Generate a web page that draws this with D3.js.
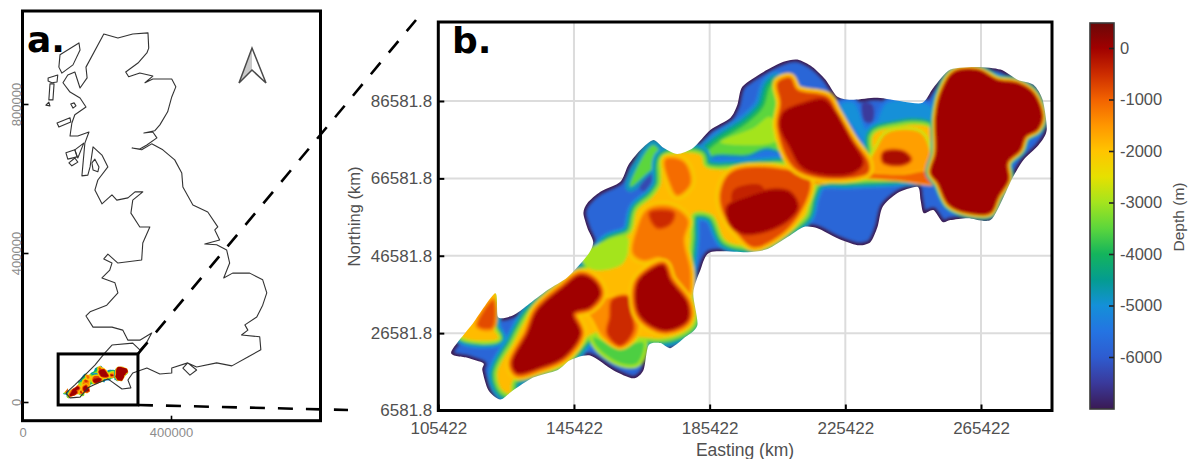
<!DOCTYPE html>
<html>
<head>
<meta charset="utf-8">
<script src="https://cdn.jsdelivr.net/npm/d3@7"></script>
<style>
  html, body { margin: 0; padding: 0; background: #fff; }
  text { font-family: "Liberation Sans", Arial, sans-serif; }
</style>
</head>
<body>
<script>
// tick values (km, labels are in metres)
const eastingTicks = [105.422, 145.422, 185.422, 225.422, 265.422];
const northingTicks = [6.5818, 26.5818, 46.5818, 66.5818, 86.5818];
const depthTicks = [0, -1000, -2000, -3000, -4000, -5000, -6000];
const mapTicksE = [0, 400];
const mapTicksN = [0, 400, 800];

// colour ramp of the depth bar
const rampDepths = [500, 0, -500, -1000, -1500, -2000, -2500, -3000, -3500, -4000, -4500, -5000, -5500, -6000, -6500, -7000];
const rampColors = ["#6a0808", "#a00000", "#cc2c00", "#f26200", "#ff9600", "#ffc400", "#e6e000", "#a4e41e", "#5cd63c", "#14b45c", "#049c90", "#1490d8", "#2474e2", "#2e5cd0", "#3a3a9c", "#3a1a55"];

// coast of Great Britain, [easting km, northing km]
const mainland = [[219,988],[257,977],[297,988],[338,991],[340,950],[335,937],[311,910],[278,886],[286,873],[316,883],[351,875],[330,857],[351,867],[402,867],[413,846],[402,819],[391,779],[370,744],[356,728],[327,722],[351,725],[362,709],[335,690],[316,679],[295,682],[321,677],[348,693],[378,677],[410,650],[429,615],[432,577],[459,529],[499,510],[526,470],[518,462],[531,435],[491,424],[523,422],[550,408],[558,373],[542,333],[566,346],[612,346],[647,328],[658,293],[647,260],[631,228],[599,207],[607,193],[590,180],[639,175],[642,140],[607,121],[564,97],[523,105],[469,94],[445,105],[432,91],[451,72],[469,86],[445,105],[402,91],[402,78],[370,75],[335,91],[297,78],[284,59],[292,38],[268,35],[230,62],[203,51],[176,38],[155,13],[128,11],[117,24],[141,46],[168,72],[195,99],[222,132],[241,153],[297,158],[316,140],[335,161],[348,185],[316,166],[284,166],[270,193],[241,201],[190,201],[171,231],[182,242],[227,260],[257,293],[249,320],[214,333],[235,354],[241,373],[219,384],[230,397],[257,373],[321,381],[324,427],[343,470],[316,470],[292,507],[297,542],[324,564],[303,564],[284,548],[254,542],[241,556],[214,532],[195,569],[203,596],[230,631],[214,663],[190,685],[182,631],[176,609],[160,607],[168,695],[179,725],[149,714],[128,714],[133,749],[141,771],[171,792],[155,816],[128,832],[109,857],[122,878],[141,886],[155,843],[174,870],[171,899]];
const lewis = [[101,932],[152,964],[155,945],[136,905],[106,883],[98,899]];
const northUist = [[69,870],[95,878],[93,859],[79,857],[69,862]];
const southUist = [[74,854],[85,854],[82,811],[71,811]];
const barra = [[63,797],[71,805],[74,795]];
const raasay = [[130,800],[139,803],[144,795],[136,789]];
const mull = [[93,749],[128,763],[130,752],[98,738]];
const islay = [[117,669],[141,677],[147,658],[122,652]];
const jura = [[141,677],[165,695],[149,655]];
const gigha = [[125,642],[141,655],[149,644],[133,634]];
const arran = [[195,652],[206,631],[203,618],[190,623],[187,642]];

// extent of panel b drawn on the map
const insetE = [96, 311];
const insetN = [-8, 129];

// basin outline, [easting km, northing km]
const basinEdge = [[109.2,21.6],[115.7,29.2],[122.2,36.9],[123.1,30.7],[127.5,31.2],[131.7,33.8],[137.6,37.7],[143.5,41],[149.4,46.7],[151.1,50.1],[149.4,53.7],[148.2,57.6],[149.4,60.2],[153.2,63.1],[159.1,65.7],[161.5,70.1],[165,73.9],[168.8,76.5],[171.8,74.5],[175.9,72.9],[180.6,74.5],[185.6,79.1],[191.5,82.2],[193.6,85.6],[195.1,90.3],[201.3,94.1],[207.2,96.7],[211.3,97.3],[215.7,95.4],[219.6,92.1],[223.1,87.7],[227.8,86.9],[234.9,87.4],[242.6,86.4],[248.2,86.1],[251.4,90],[256.4,94.7],[264.4,95.4],[271.2,94.7],[276.2,92.1],[280.9,90.8],[283.6,86.9],[284.8,79.1],[282.4,75.2],[278,71.4],[274.7,66.7],[272.1,61.8],[268.2,55.8],[261.5,56.3],[256.4,55.8],[254.1,55.3],[251.4,58.4],[248.5,57.6],[247.6,61],[246.7,64.4],[240.8,62.8],[236.4,59.2],[234.9,54],[232.8,50.1],[229,49.3],[223.1,51.1],[217.2,53.7],[213.1,54],[208.4,51.4],[202.5,48.3],[196.6,47.5],[185.6,47.5],[182.7,42.9],[180.6,36.9],[181.8,28.6],[177.7,25.2],[173.8,22.7],[170.9,24],[167.4,23.4],[165.9,17],[162.9,14.9],[157,17],[150.2,20.8],[144.3,19.6],[140.5,17],[133.4,15.1],[127.5,11.8],[123.7,9.4],[120.2,11.8],[118.4,17],[118.7,18.8],[114,20.2]];

// shapes of equal depth
const upperShelf = [[205.4,91.6],[207.2,89.5],[205.4,79.9],[209.2,71],[184.8,69.5],[183.6,72.1],[187.7,75.8],[196.6,80.9],[201.3,85.1],[203.3,90.3]];
const upperShelfTop = [[188.6,76],[198.3,79.6],[203.3,82.5],[205.4,76.5],[193.6,75.2]];
const upperTrough = [[186.5,71.9],[196.6,72.1],[202.5,73.9],[208.4,71.4],[207.2,70.1],[185.6,70.1]];
const eastTeal = [[224,85.6],[227.8,79.9],[233.7,73.9],[237.9,79.9],[250.5,80.4],[250.5,85.1],[237.9,86.1],[234.3,80.4],[231.7,79.1],[227.8,86.1]];
const eastDeep = [[230.5,86.1],[233.4,85.6],[233.4,81.2],[231.1,81.2]];
const westWedge = [[162,64.4],[164.1,69.5],[168.8,75.2],[171.5,71.4],[167.1,68]];
const westDeep = [[164.7,64.1],[169.4,68.2],[170.9,66.7],[167.4,63.1]];
const mainRidge = [[124.3,11.8],[122.8,16.2],[127.5,24],[132.5,31.7],[142.3,39.5],[149.4,43.4],[155.3,49.9],[162,52.4],[164.1,58.4],[168.5,61.8],[170.9,64.9],[171.8,71.9],[182.7,72.6],[184.2,69.5],[209.2,70.1],[232.8,68.8],[233.7,77.8],[238.7,79.6],[250.5,79.6],[255,68.8],[250.5,67.5],[238.7,66.7],[226.9,66.2],[217.5,65.7],[215.1,61.8],[213.7,57.1],[207.8,52.7],[201.9,49.3],[196,49.1],[190.1,50.6],[186.2,57.1],[180.6,57.6],[179.7,50.6],[178.9,39.5],[180.6,29.1],[173.8,25.5],[164.1,25.5],[151.1,26.5],[142.3,18.8],[127.5,14.4],[126.6,11]];
const southShelf = [[151.1,25.5],[158.2,22.9],[165.9,24.2],[164.1,18.8],[159.1,18.8],[152.3,22.9]];
const ridgeShelf = [[147.3,46.2],[153.2,49.9],[161.2,51.4],[160,44.7],[151.1,42.9]];
const westTip = [[112,26],[118,36],[122.2,37.7],[121.6,28.1],[123.1,25.2]];
const westTipRed = [[117,28.5],[121.6,35.1],[121.3,28]];
const northSpur = [[162.9,47.3],[164.1,53.2],[167.1,58.4],[173.8,59.2],[178.9,55.8],[177.7,50.6],[179.7,42.1],[178.9,35.9],[173.8,41],[170.9,46.2],[165.9,45.5]];
const northSpurTop = [[167.9,57.6],[174.7,57.6],[173.8,55],[170,54]];
const ridgeKnot = [[172.4,71.4],[177.7,70.8],[179.7,65.4],[175.9,62.3],[173.8,65.4]];
const ridgeBand = [[213.7,67.2],[224,68.2],[241.7,67.5],[250.5,68.2],[252,65.4],[240.2,66.2],[226.9,66.7],[216.6,65.4]];
const eastSaddle = [[234.9,74.7],[237.9,78.3],[247.6,78.3],[250.5,72.1],[249.7,68.8],[233.7,68],[232.8,70.6]];
const eastSaddleCore = [[236.7,73.2],[242.6,73.4],[244.6,71.4],[241.7,70.1],[236.7,70.8]];
const midSaddle = [[145.2,31.7],[157,35.9],[162.9,35.1],[164.1,26.5],[159.1,22.9],[154.1,25.5],[149.4,31.7]];
const midCore = [[156.7,35.1],[161.2,35.9],[162,32.5],[162.9,27.3],[159.1,23.4],[155.3,26.5],[156.1,30.7]];
const centralHalo = [[188.6,62.8],[191.5,68],[200.4,69.5],[214.3,66.9],[215.1,64.4],[211.3,56.6],[205.4,51.4],[198.3,48.8],[193.6,52.4],[189.5,57.6]];
const centralPatch = [[192.4,63.6],[200.4,64.9],[201.9,62.3],[196,59.7],[192.4,59.7]];
const centralCore = [[190.7,59.2],[196.6,61.8],[204.2,63.6],[209.2,62.8],[211.3,59.2],[208.4,55.8],[202.5,53.2],[195.4,52.4],[191.5,55]];
const northHalo = [[205.4,91.3],[209.2,92.6],[211.3,89.5],[220.2,87.7],[223.1,83.5],[227.8,76.5],[232.3,70.6],[232,68],[218.1,66.7],[210.1,69.5],[205.4,79.9],[206.3,86.1]];
const northCore = [[207.2,83.5],[212.2,85.6],[219,86.9],[221.9,84.3],[226.9,76.5],[230.5,70.6],[227.8,68.2],[220.2,67.5],[212.8,69.5],[209.2,74.7],[206.3,79.9]];
const westCore = [[127.2,18.8],[131.7,26.5],[134.6,32.5],[142.3,38.5],[147.3,41.6],[151.1,40.3],[153.2,36.9],[150.2,33.3],[145.2,31.7],[147.3,26.5],[142.3,20.3],[135.5,17.7],[128.7,16.2]];
const eastCore = [[164.1,39.5],[167.9,42.9],[171.8,44.2],[173.8,40.3],[178.9,34.3],[178.9,29.9],[173,27.3],[167.1,29.1],[164.1,32.5]];
const northEastCore = [[257.3,94.1],[264.4,94.7],[270.3,92.1],[276.2,91.3],[280.9,88.7],[283.6,82.5],[282.1,79.1],[278.6,77.3],[277.1,73.9],[273.3,70.6],[273.6,66.2],[270.6,61.8],[268.2,57.6],[261.5,57.6],[255.9,59.7],[252.6,65.4],[250.5,68],[252,73.2],[252,82.5],[253.5,88.7]];

// rim widths in px, [depth, stroke width], widest first
const ridgeRim = [[-5000, 18], [-4200, 13], [-3200, 7]];
const softRim = [[-2200, 9], [-1700, 5]];
const coreRim = [[-2100, 13], [-1300, 8], [-700, 4]];
const thinRim = [[-5000, 10], [-3800, 8], [-2400, 5.5], [-1200, 3]];
const tealRim = [[-5500, 8]];
const shelfRim = [[-5200, 20], [-4600, 14], [-4000, 8]];

// draw order, deepest first
const fields = [
  { pts: eastTeal, depth: -5000, rim: tealRim },
  { pts: eastDeep, depth: -6500, rim: [] },
  { pts: westWedge, depth: -3500, rim: [[-4800, 10]] },
  { pts: westDeep, depth: -6300, rim: [] },
  { pts: upperShelf, depth: -3500, rim: shelfRim },
  { pts: upperShelfTop, depth: -3000, rim: [] },
  { pts: upperTrough, depth: -5500, rim: [[-4600, 5]] },
  { pts: westTip, depth: -1900, rim: [[-5000, 15], [-4000, 10], [-3000, 6]] },
  { pts: westTipRed, depth: -800, rim: [[-1400, 5]] },
  { pts: mainRidge, depth: -1900, rim: ridgeRim },
  { pts: southShelf, depth: -3600, rim: [[-3000, 7]] },
  { pts: ridgeShelf, depth: -3000, rim: [] },
  { pts: northSpur, depth: -1200, rim: softRim },
  { pts: northSpurTop, depth: -500, rim: [[-800, 4]] },
  { pts: ridgeKnot, depth: -1100, rim: softRim },
  { pts: eastSaddle, depth: -1600, rim: [[-2700, 6]] },
  { pts: ridgeBand, depth: -1000, rim: [[-1800, 3]] },
  { pts: eastSaddleCore, depth: -100, rim: [[-800, 4]] },
  { pts: midSaddle, depth: -1400, rim: [[-2000, 5]] },
  { pts: midCore, depth: -500, rim: [[-1000, 4]] },
  { pts: centralHalo, depth: -800, rim: softRim },
  { pts: centralPatch, depth: -400, rim: [] },
  { pts: centralCore, depth: 0, rim: [[-400, 4]] },
  { pts: northHalo, depth: -700, rim: softRim },
  { pts: northCore, depth: 0, rim: [[-400, 4]] },
  { pts: westCore, depth: 0, rim: coreRim },
  { pts: eastCore, depth: 0, rim: coreRim },
  { pts: northEastCore, depth: 0, rim: thinRim }
];

const width = 1188;
const height = 459;

const svg = d3.select("body").append("svg")
  .attr("width", width)
  .attr("height", height)
  .style("display", "block");

const defs = svg.append("defs");

const depthColor = d3.scaleLinear()
  .domain(rampDepths)
  .range(rampColors)
  .clamp(true);

const blur = (id, dev) => defs.append("filter").attr("id", id)
  .attr("x", "-10%").attr("y", "-10%").attr("width", "120%").attr("height", "120%")
  .append("feGaussianBlur").attr("stdDeviation", dev);
blur("soft", 1.4);
blur("softMini", 0.5);
blur("softLine", 0.35);

// scales
const mapX = d3.scaleLinear().domain([0, 400]).range([22.5, 171]);
const mapY = d3.scaleLinear().domain([0, 400]).range([402, 253]);
const mapBox = { x0: 22.5, x1: 320.5, y0: 11, y1: 420.7 };

const x = d3.scaleLinear().domain([105.422, 265.422]).range([438.3, 981]);
const y = d3.scaleLinear().domain([6.5818, 86.5818]).range([410.5, 101]);
const box = { x0: 438.3, x1: 1052, y0: 22, y1: 410.5 };

const closedLine = (sx, sy) => d3.line().x(d => sx(d[0])).y(d => sy(d[1]));

// draws the depth field into g, with strokes scaled by k
function drawField(g, sx, sy, k, id, withBasin) {
  const smooth = closedLine(sx, sy).curve(d3.curveCatmullRomClosed.alpha(0.5));
  const edge = closedLine(sx, sy).curve(d3.curveCardinalClosed.tension(0.25));
  defs.append("clipPath").attr("id", id).append("path").attr("d", edge(basinEdge));
  const clipped = g.append("g").attr("clip-path", `url(#${id})`);
  const inner = clipped.append("g").attr("filter", withBasin ? "url(#soft)" : "url(#softMini)");
  if (withBasin) {
    inner.append("path").attr("d", edge(basinEdge))
      .attr("fill", depthColor(-5800))
      .attr("stroke", depthColor(-7000))
      .attr("stroke-width", 6);
  }
  fields.filter(f => withBasin || f.depth > -4000).forEach(f => {
    f.rim.forEach(r => {
      inner.append("path").attr("d", smooth(f.pts))
        .attr("fill", "none")
        .attr("stroke", depthColor(r[0]))
        .attr("stroke-width", r[1] * k)
        .attr("stroke-linejoin", "round");
    });
    inner.append("path").attr("d", smooth(f.pts)).attr("fill", depthColor(f.depth));
  });
}

// panel a
const panelA = svg.append("g");

drawField(panelA.append("g"), mapX, mapY, 0.35, "basinMini", false);

const coastLine = closedLine(mapX, mapY).curve(d3.curveLinearClosed);
panelA.append("g").attr("filter", "url(#softLine)").selectAll("path")
  .data([mainland, lewis, northUist, southUist, barra, raasay, mull, islay, jura, gigha, arran])
  .join("path")
  .attr("d", coastLine)
  .attr("fill", "none")
  .attr("stroke", "#333")
  .attr("stroke-width", 1.1)
  .attr("stroke-linejoin", "round");

panelA.append("rect")
  .attr("x", mapX(insetE[0]))
  .attr("y", mapY(insetN[1]))
  .attr("width", mapX(insetE[1]) - mapX(insetE[0]))
  .attr("height", mapY(insetN[0]) - mapY(insetN[1]))
  .attr("fill", "none")
  .attr("stroke", "#000")
  .attr("stroke-width", 3);

panelA.append("rect")
  .attr("x", mapBox.x0).attr("y", mapBox.y0)
  .attr("width", mapBox.x1 - mapBox.x0).attr("height", mapBox.y1 - mapBox.y0)
  .attr("fill", "none").attr("stroke", "#000").attr("stroke-width", 3);

const mapAxisX = panelA.append("g")
  .attr("transform", `translate(0,${mapBox.y1})`)
  .call(d3.axisBottom(mapX).tickValues(mapTicksE).tickSize(-5).tickPadding(7).tickFormat(d => d * 1000));
const mapAxisY = panelA.append("g")
  .attr("transform", `translate(${mapBox.x0},0)`)
  .call(d3.axisLeft(mapY).tickValues(mapTicksN).tickSize(-6).tickPadding(0).tickFormat(d => d * 1000));
mapAxisY.selectAll("text")
  .attr("transform", "translate(-2,0) rotate(-90)")
  .attr("x", 0).attr("y", 0).attr("dy", 0)
  .attr("text-anchor", "middle");
[mapAxisX, mapAxisY].forEach(a => {
  a.select(".domain").remove();
  a.selectAll("line").attr("stroke", "#000").attr("stroke-width", 1.6);
  a.selectAll("text").attr("fill", "#8c8c8c").attr("font-size", 13)
    .attr("font-family", "'Liberation Sans', Arial, sans-serif");
});

// north arrow
const arrow = panelA.append("g").attr("transform", "translate(252,48)");
arrow.append("path").attr("d", "M0,0L-13,35L0,22Z").attr("fill", "#c9c9c9");
arrow.append("path").attr("d", "M0,0L14,35L0,22L-13,35Z")
  .attr("fill", "none").attr("stroke", "#4a4a4a").attr("stroke-width", 1.5).attr("stroke-linejoin", "miter");

panelA.append("text").attr("x", 27).attr("y", 52)
  .style("font-family", "'DejaVu Sans'").attr("font-weight", "bold").attr("font-size", 36)
  .text("a.");

// dashed connectors from the inset to panel b
const connectors = svg.append("g")
  .attr("stroke", "#000").attr("stroke-width", 2.6).attr("stroke-dasharray", "15,13").attr("fill", "none");
connectors.append("line")
  .attr("x1", mapX(insetE[1])).attr("y1", mapY(insetN[1]))
  .attr("x2", 416).attr("y2", 20);
connectors.append("line")
  .attr("x1", mapX(insetE[1])).attr("y1", mapY(insetN[0]))
  .attr("x2", 348).attr("y2", 410);

// panel b
const panelB = svg.append("g");

const gridG = panelB.append("g").attr("stroke", "#dcdcdc").attr("stroke-width", 2);
gridG.selectAll(".gx").data(eastingTicks.slice(1)).join("line")
  .attr("x1", d => x(d)).attr("x2", d => x(d)).attr("y1", box.y0).attr("y2", box.y1);
gridG.selectAll(".gy").data(northingTicks.slice(1)).join("line")
  .attr("x1", box.x0).attr("x2", box.x1).attr("y1", d => y(d)).attr("y2", d => y(d));

drawField(panelB.append("g"), x, y, 1, "basinClip", true);

panelB.append("rect")
  .attr("x", box.x0).attr("y", box.y0)
  .attr("width", box.x1 - box.x0).attr("height", box.y1 - box.y0)
  .attr("fill", "none").attr("stroke", "#000").attr("stroke-width", 3);

const axisB = panelB.append("g")
  .attr("transform", `translate(0,${box.y1})`)
  .call(d3.axisBottom(x).tickValues(eastingTicks).tickSize(-6).tickPadding(11).tickFormat(d => d3.format(".0f")(d * 1000)));
const axisL = panelB.append("g")
  .attr("transform", `translate(${box.x0},0)`)
  .call(d3.axisLeft(y).tickValues(northingTicks).tickSize(-6).tickPadding(6).tickFormat(d => d3.format(".1f")(d * 1000)));
[axisB, axisL].forEach(a => {
  a.select(".domain").remove();
  a.selectAll("line").attr("stroke", "#000").attr("stroke-width", 2);
  a.selectAll("text").attr("fill", "#505050").attr("font-size", 17)
    .attr("font-family", "'Liberation Sans', Arial, sans-serif");
});

panelB.append("text").attr("x", 745).attr("y", 456)
  .attr("text-anchor", "middle").attr("font-size", 17.5).attr("fill", "#505050")
  .text("Easting (km)");
panelB.append("text")
  .attr("transform", "translate(360,216.5) rotate(-90)")
  .attr("text-anchor", "middle").attr("font-size", 16.5).attr("fill", "#505050")
  .text("Northing (km)");
panelB.append("text").attr("x", 452).attr("y", 53)
  .style("font-family", "'DejaVu Sans'").attr("font-weight", "bold").attr("font-size", 36)
  .text("b.");

// colour bar
const barBox = { x0: 1090, x1: 1114, y0: 23, y1: 409 };
const barY = d3.scaleLinear().domain([0, -6000]).range([48, 357]);

const grad = defs.append("linearGradient").attr("id", "depthGrad")
  .attr("gradientUnits", "userSpaceOnUse")
  .attr("x1", 0).attr("x2", 0).attr("y1", barBox.y0).attr("y2", barBox.y1);
rampDepths.forEach((d, i) => {
  grad.append("stop")
    .attr("offset", (barY(d) - barBox.y0) / (barBox.y1 - barBox.y0))
    .attr("stop-color", rampColors[i]);
});

const bar = svg.append("g");
bar.append("rect")
  .attr("x", barBox.x0).attr("y", barBox.y0)
  .attr("width", barBox.x1 - barBox.x0).attr("height", barBox.y1 - barBox.y0)
  .attr("fill", "url(#depthGrad)").attr("stroke", "#3a3a3a").attr("stroke-width", 1.6);

const axisBar = bar.append("g")
  .attr("transform", `translate(${barBox.x1},0)`)
  .call(d3.axisRight(barY).tickValues(depthTicks).tickSize(-5).tickPadding(6).tickFormat(d => d));
axisBar.select(".domain").remove();
axisBar.selectAll("line").attr("stroke", "#222").attr("stroke-width", 1.6);
axisBar.selectAll("text").attr("fill", "#505050").attr("font-size", 16.5)
  .attr("font-family", "'Liberation Sans', Arial, sans-serif");

bar.append("text")
  .attr("transform", "translate(1184,217) rotate(-90)")
  .attr("text-anchor", "middle").attr("font-size", 15.5).attr("fill", "#505050")
  .text("Depth (m)");
</script>
</body>
</html>
